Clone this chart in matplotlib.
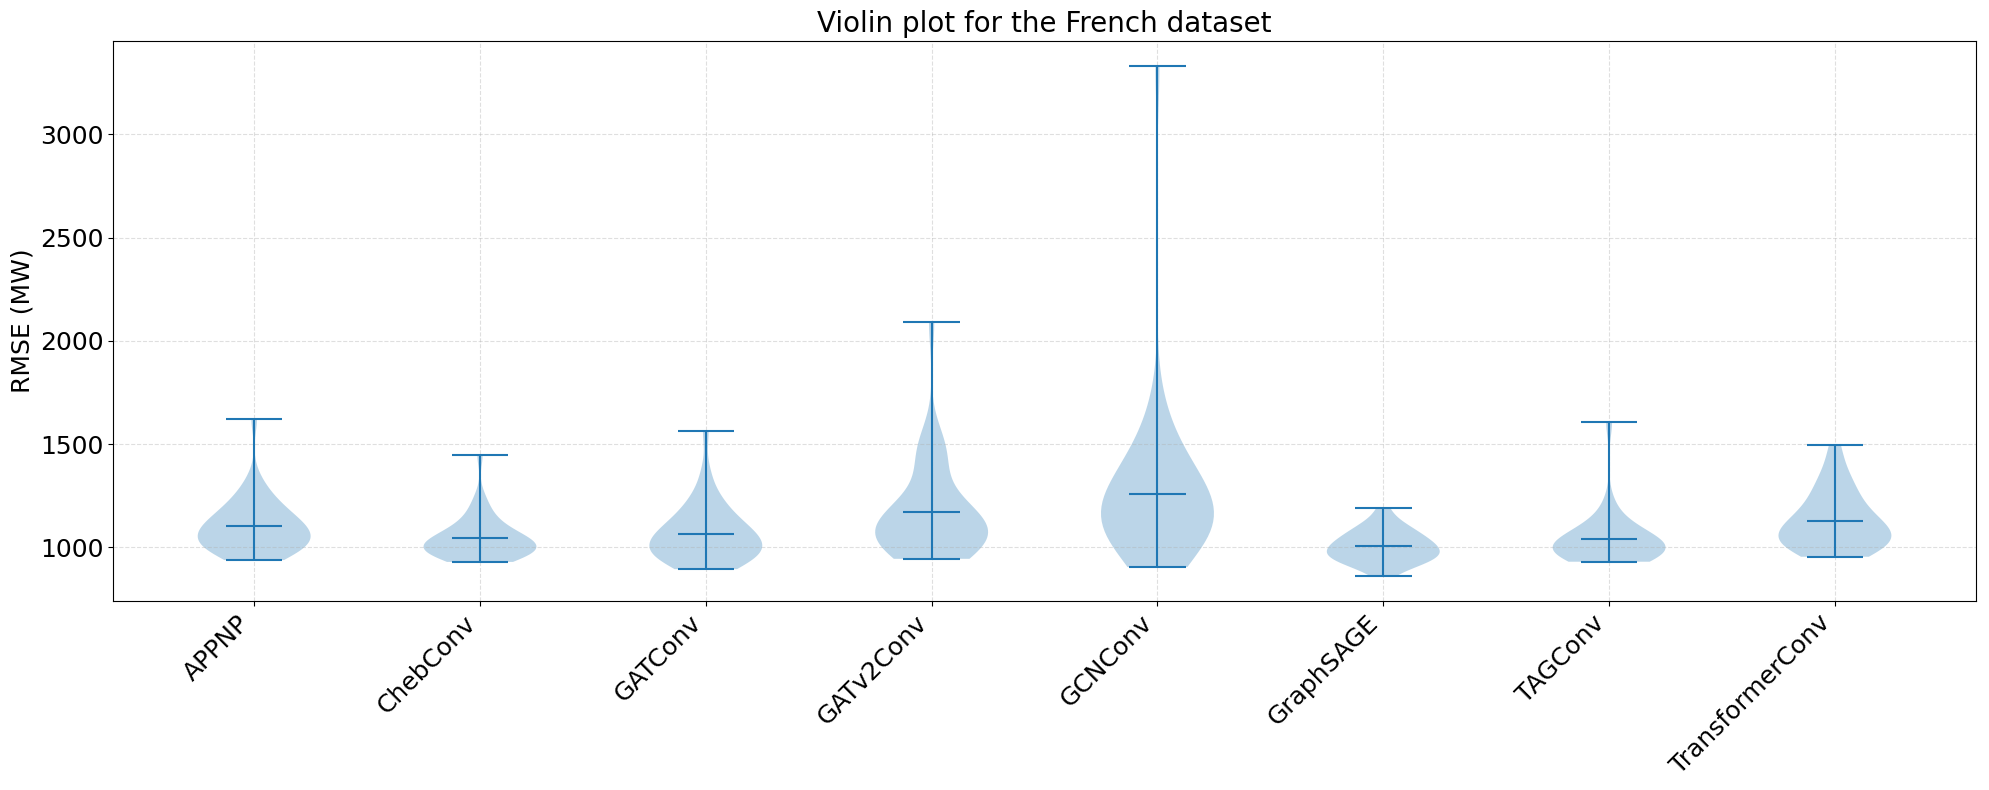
import matplotlib
matplotlib.use("Agg")
import matplotlib.pyplot as plt

MODELS = ["APPNP", "ChebConv", "GATConv", "GATv2Conv", "GCNConv",
          "GraphSAGE", "TAGConv", "TransformerConv"]

# RMSE values (MW) per model, estimated from the violin shapes
appnp = [939, 946, 955, 965, 974, 983, 990, 998, 1005, 1013, 1020, 1027,
         1034, 1040, 1047, 1054, 1061, 1068, 1075, 1082, 1090, 1098, 1105,
         1113, 1121, 1129, 1139, 1149, 1161, 1174, 1188, 1202, 1218, 1236,
         1259, 1289, 1337, 1624]
chebconv = [930, 934, 939, 945, 952, 958, 963, 968, 974, 979, 983, 988, 993,
            997, 1002, 1006, 1011, 1016, 1020, 1025, 1030, 1035, 1041, 1046,
            1052, 1060, 1068, 1075, 1087, 1099, 1116, 1130, 1150, 1175, 1205,
            1250, 1446]
gatconv = [895, 901, 909, 920, 929, 938, 947, 954, 962, 969, 977, 984, 991,
           998, 1005, 1012, 1019, 1026, 1033, 1041, 1049, 1057, 1066, 1074,
           1084, 1093, 1105, 1116, 1129, 1142, 1159, 1177, 1197, 1223, 1245,
           1290, 1370, 1566]
gatv2conv = [945, 952, 962, 973, 984, 995, 1006, 1017, 1028, 1038, 1048,
             1057, 1066, 1075, 1084, 1093, 1102, 1111, 1120, 1130, 1141, 1153,
             1166, 1180, 1197, 1218, 1245, 1370, 1410, 1440, 1470, 1490, 1545,
             2089]
gcnconv = [905, 950, 980, 1000, 1015, 1028, 1040, 1051, 1062, 1072, 1082,
           1092, 1102, 1112, 1122, 1132, 1142, 1152, 1163, 1174, 1185, 1197,
           1209, 1222, 1235, 1249, 1264, 1280, 1297, 1315, 1335, 1357, 1382,
           1410, 1442, 1480, 1525, 1590, 1690, 3330]
graphsage = [864, 896, 909, 919, 927, 935, 942, 949, 955, 961, 968, 974, 980,
             986, 993, 1000, 1007, 1014, 1022, 1030, 1037, 1046, 1056, 1065,
             1076, 1087, 1101, 1116, 1140, 1189]
tagconv = [931, 936, 941, 946, 954, 961, 967, 973, 979, 985, 991, 996, 1002,
           1008, 1015, 1021, 1028, 1035, 1043, 1052, 1063, 1076, 1093, 1119,
           1145, 1215, 1607]
transformerconv = [955, 962, 975, 987, 997, 1007, 1017, 1026, 1035, 1044,
                   1052, 1061, 1070, 1079, 1089, 1099, 1111, 1123, 1137, 1153,
                   1170, 1190, 1211, 1235, 1261, 1288, 1318, 1351, 1410, 1494]

rmse = [appnp, chebconv, gatconv, gatv2conv, gcnconv, graphsage, tagconv,
        transformerconv]

fig, ax = plt.subplots(figsize=(19.9, 7.9), dpi=100)
fig.subplots_adjust(left=0.0568, right=0.993, top=0.9487, bottom=0.2392)

ax.violinplot(rmse, showmeans=True)
ax.set_xticks(range(1, len(MODELS) + 1))
ax.set_xticklabels(MODELS, rotation=45, ha="right", fontsize=18)
ax.tick_params(axis="y", labelsize=18)
ax.set_ylabel("RMSE (MW)", fontsize=18)
ax.set_title("Violin plot for the French dataset", fontsize=20)
ax.grid(True, linestyle="--", alpha=0.4)

fig.savefig("out.png", dpi=100)
